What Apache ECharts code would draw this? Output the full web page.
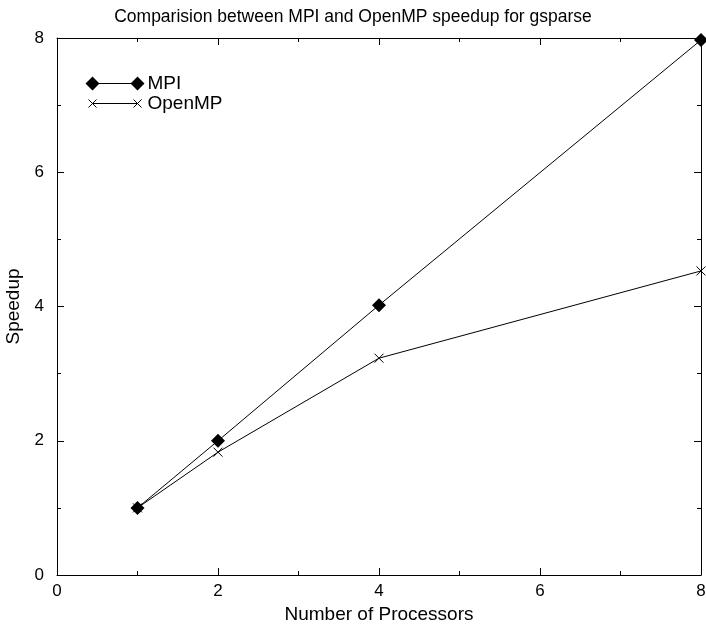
<!DOCTYPE html>
<html>
<head>
<meta charset="utf-8">
<script src="https://cdn.jsdelivr.net/npm/echarts@6/dist/echarts.min.js"></script>
<style>
  html, body { margin: 0; padding: 0; background: #fff; }
  #chart { width: 706px; height: 629px; }
</style>
</head>
<body>
<div id="chart"></div>
<script>
const processors = [1, 2, 4, 8];
const mpiSpeedup = [1, 2, 4.02, 7.97];
const openmpSpeedup = [1, 1.83, 3.23, 4.53];

const FONT = "'Liberation Sans', Arial, sans-serif";
const cross = "path://M0,0L10,10M10,0L0,10";
// legend samples: symbol at both ends of the line, gnuplot style
const mpiKey = "path://M0,7L7,0L14,7L7,14Z M7,6.5L52,6.5L52,7.5L7,7.5Z M45,7L52,0L59,7L52,14Z";
const ompKey = "path://M0,0M59,14M3,3L11,11M11,3L3,11M7,7L52,7M48,3L56,11M56,3L48,11";

const pairs = (xs, ys) => xs.map((x, i) => [x, ys[i]]);

const tickAxis = (extra) => Object.assign({
  type: "value",
  min: 0,
  max: 8,
  interval: 2,
  axisLine: { show: true, onZero: false, lineStyle: { color: "#000", width: 1 } },
  axisTick: { show: true, inside: true, length: 7, lineStyle: { color: "#000" } },
  minorTick: { show: true, splitNumber: 2, length: 4, lineStyle: { color: "#000" } },
  splitLine: { show: false },
  axisLabel: { show: false }
}, extra);

const chart = echarts.init(document.getElementById("chart"));
chart.setOption({
  animation: false,
  backgroundColor: "#fff",
  textStyle: { fontFamily: FONT },
  title: {
    text: "Comparision between MPI and OpenMP speedup for gsparse",
    left: "center",
    top: 3,
    textStyle: { fontFamily: FONT, fontSize: 17.5, fontWeight: "normal", color: "#000" }
  },
  legend: {
    left: 78,
    top: 69,
    orient: "vertical",
    itemWidth: 59,
    itemHeight: 14,
    itemGap: 1,
    symbolKeepAspect: false,
    textStyle: { fontFamily: FONT, fontSize: 19, lineHeight: 19, color: "#000", padding: [0, 0, 0, -2] },
    data: [
      { name: "MPI", icon: mpiKey, itemStyle: { color: "#000", borderWidth: 0 } },
      { name: "OpenMP", icon: ompKey, itemStyle: { color: "none", borderColor: "#000", borderWidth: 1 } }
    ]
  },
  grid: { left: 57, right: 5, top: 38, bottom: 54, outerBoundsMode: "none", containLabel: false },
  xAxis: [
    tickAxis({
      position: "bottom",
      name: "Number of Processors",
      nameLocation: "middle",
      nameGap: 30,
      nameTextStyle: { fontFamily: FONT, fontSize: 19, color: "#000" },
      axisLabel: { show: true, fontFamily: FONT, fontSize: 17, color: "#000", margin: 8 }
    }),
    tickAxis({ position: "top" })
  ],
  yAxis: [
    tickAxis({
      position: "left",
      name: "Speedup",
      nameLocation: "middle",
      nameGap: 25,
      nameTextStyle: { fontFamily: FONT, fontSize: 19, color: "#000" },
      axisLabel: { show: true, fontFamily: FONT, fontSize: 17, color: "#000", margin: 13 }
    }),
    tickAxis({ position: "right" })
  ],
  series: [
    {
      name: "MPI",
      type: "line",
      data: pairs(processors, mpiSpeedup),
      symbol: "diamond",
      symbolSize: 14,
      showAllSymbol: true,
      lineStyle: { color: "#000", width: 1 },
      itemStyle: { color: "#000" }
    },
    {
      name: "OpenMP",
      type: "line",
      data: pairs(processors, openmpSpeedup),
      symbol: cross,
      symbolSize: 9,
      showAllSymbol: true,
      lineStyle: { color: "#000", width: 1 },
      itemStyle: { color: "none", borderColor: "#000", borderWidth: 1 }
    }
  ]
});
</script>
</body>
</html>
